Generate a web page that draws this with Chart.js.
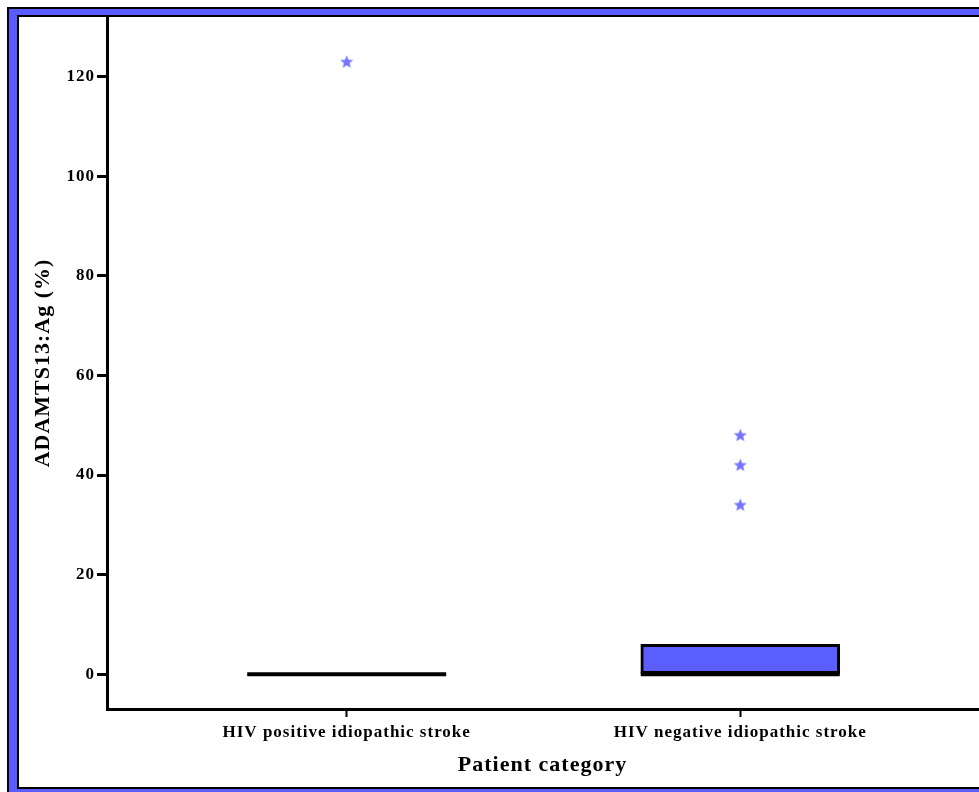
<!DOCTYPE html>
<html><head><meta charset="utf-8">
<script src="https://cdn.jsdelivr.net/npm/chart.js@4.4.0/dist/chart.umd.min.js"></script>
<style>
html,body{margin:0;padding:0;background:#fff;overflow:hidden;width:979px;height:792px;}
#outer{position:absolute;left:7px;top:7px;width:2000px;height:2000px;box-sizing:border-box;border:2px solid #000;background:#5a5cff;}
#inner{position:absolute;left:17px;top:15px;width:2000px;height:774px;box-sizing:border-box;border:2px solid #000;background:#fff;}
canvas{position:absolute;left:0;top:0;}
</style></head><body>
<div id="outer"></div><div id="inner"></div>
<canvas id="c" width="986" height="792"></canvas>
<script>
// ---- data ----
const categories = ['HIV positive idiopathic stroke', 'HIV negative idiopathic stroke'];
const boxLow = [0, 0];
const boxHigh = [0, 6];
const medians = [0, 0];
const outlierCategory = [1, 2, 2, 2];
const outlierValues = [123, 48, 42, 34];
const yTicks = [0, 20, 40, 60, 80, 100, 120];

// ---- styling ----
const BOX_BLUE = '#5b5eff';
const STAR_BLUE = '#7474ff';
const FONT = "'Liberation Serif', 'Times New Roman', serif";

function makeStar() {
  const c = document.createElement('canvas');
  c.width = 15; c.height = 15;
  const g = c.getContext('2d');
  g.fillStyle = STAR_BLUE;
  g.beginPath();
  for (let i = 0; i < 10; i++) {
    const r = i % 2 ? 3.0 : 7.0;
    const a = -Math.PI / 2 + i * Math.PI / 5;
    const px = 7.5 + r * Math.cos(a), py = 7.9 + r * Math.sin(a);
    if (i) g.lineTo(px, py); else g.moveTo(px, py);
  }
  g.closePath();
  g.fill();
  return c;
}
const star = makeStar();

const medianPlugin = {
  id: 'medians',
  afterDatasetsDraw(chart) {
    const meta = chart.getDatasetMeta(0);
    const y = chart.scales.y;
    const ctx = chart.ctx;
    ctx.save();
    ctx.strokeStyle = '#000';
    ctx.lineWidth = 4;
    meta.data.forEach((el, i) => {
      const py = y.getPixelForValue(medians[i]);
      ctx.beginPath();
      ctx.moveTo(el.x - el.width / 2, py);
      ctx.lineTo(el.x + el.width / 2, py);
      ctx.stroke();
    });
    ctx.restore();
  }
};
const spacingPlugin = {
  id: 'spacing',
  beforeDraw(chart) { chart.ctx.letterSpacing = '1px'; }
};

new Chart(document.getElementById('c'), {
  type: 'bar',
  data: {
    datasets: [
      {
        type: 'bar',
        data: categories.map((c, i) => ({ x: i + 1, y: [boxLow[i], boxHigh[i]] })),
        backgroundColor: BOX_BLUE,
        borderColor: '#000',
        borderWidth: 3,
        borderSkipped: false,
        barThickness: 199,
        grouped: false,
        order: 2
      },
      {
        type: 'scatter',
        data: outlierValues.map((v, i) => ({ x: outlierCategory[i], y: v })),
        pointStyle: star,
        pointRadius: 7,
        order: 1
      }
    ]
  },
  options: {
    responsive: false,
    maintainAspectRatio: false,
    animation: false,
    layout: { padding: { top: 17, left: 0, right: 0, bottom: 0 } },
    plugins: { legend: { display: false }, tooltip: { enabled: false } },
    scales: {
      x: {
        type: 'linear',
        offset: false,
        min: 0.391, max: 2.604,
        afterBuildTicks: s => { s.ticks = categories.map((c, i) => ({ value: i + 1 })); },
        afterFit: s => { s.height = 83; s.paddingRight = 0; s.paddingLeft = 0; },
        ticks: {
          callback: v => categories[v - 1],
          color: '#000',
          font: { family: FONT, size: 17, weight: 'bold' },
          padding: 5, maxRotation: 0, autoSkip: false
        },
        grid: { offset: false, drawOnChartArea: false, tickLength: 8, tickWidth: 2, tickColor: '#000' },
        border: { color: '#000', width: 3 },
        title: {
          display: true, text: 'Patient category', color: '#000',
          font: { family: FONT, size: 22, weight: 'bold' },
          padding: { top: 0, bottom: 13 }
        }
      },
      y: {
        type: 'linear',
        min: -7, max: 132,
        afterBuildTicks: s => { s.ticks = yTicks.map(v => ({ value: v })); },
        afterFit: s => { s.width = 107; },
        ticks: {
          color: '#000',
          font: { family: FONT, size: 17, weight: 'bold' },
          padding: 2
        },
        grid: { drawOnChartArea: false, tickLength: 10, tickWidth: 3, tickColor: '#000' },
        border: { color: '#000', width: 3 },
        title: {
          display: true, text: 'ADAMTS13:Ag (%)', color: '#000',
          font: { family: FONT, size: 22, weight: 'bold' },
          padding: { top: 30, bottom: 0 }
        }
      }
    }
  },
  plugins: [medianPlugin, spacingPlugin]
});
</script>
</body></html>
